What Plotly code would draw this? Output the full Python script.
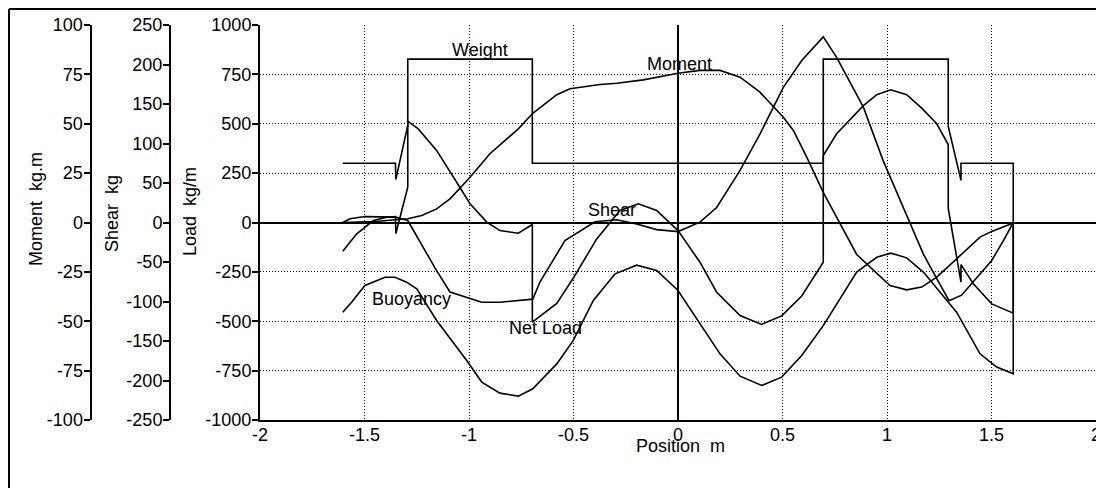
import plotly.graph_objects as go

# ---------------- data ----------------
# Weight distribution (kg/m) vs position (m)
weight_x = [-1.604, -1.352, -1.350, -1.293, -1.293, -0.697, -0.697, 0.695, 0.695,
            1.293, 1.293, 1.354, 1.354, 1.604, 1.604]
weight_y = [300, 300, 218, 491, 827, 827, 300, 300, 827,
            827, 486, 213, 300, 300, 0]

# Buoyancy (kg/m)
buoy_x = [-1.604, -1.561, -1.498, -1.402, -1.354, -1.298, -1.250, -1.155, -1.011, -0.939,
          -0.852, -0.764, -0.695, -0.580, -0.501, -0.405, -0.301, -0.198, -0.102, 0.0,
          0.201, 0.297, 0.400, 0.496, 0.592, 0.695, 0.855, 0.951, 1.018, 1.094,
          1.174, 1.333, 1.445, 1.525, 1.604, 1.604]
buoy_y = [-454, -403, -319, -277, -277, -302, -336, -496, -699, -808,
          -864, -879, -842, -716, -597, -395, -260, -216, -243, -344,
          -665, -778, -825, -783, -673, -522, -251, -176, -155, -179,
          -251, -454, -665, -732, -766, 0]

# Net load (kg/m)
net_x = [-1.604, -1.537, -1.458, -1.394, -1.352, -1.350, -1.293, -1.293, -1.243, -1.155,
         -1.059, -0.995, -0.915, -0.852, -0.764, -0.697, -0.697, -0.580, -0.500, -0.389,
         -0.278, -0.190, -0.102, 0.0, 0.105, 0.185, 0.297, 0.400, 0.496, 0.592,
         0.695, 0.695, 0.759, 0.887, 0.951, 1.018, 1.094, 1.166, 1.238, 1.293,
         1.293, 1.354, 1.354, 1.413, 1.501, 1.604, 1.604]
net_y = [-145, -57, 10, 27, 30, -56, 179, 513, 474, 365,
         204, 95, 2, -41, -54, -10, -505, -410, -280, -83,
         61, 95, 61, -41, -201, -353, -471, -516, -473, -372,
         -201, 339, 449, 592, 647, 672, 647, 579, 500, 395,
         71, -302, -213, -310, -412, -459, 0]

# Shear (kg)
shear_x = [-1.604, -1.569, -1.498, -1.442, -1.352, -1.293, -1.219, -1.155, -1.091, -1.011,
           -0.939, -0.852, -0.695, -0.660, -0.541, -0.397, -0.293, -0.198, -0.102, 0.0,
           0.105, 0.185, 0.297, 0.392, 0.504, 0.592, 0.695, 0.759, 0.887, 0.982,
           1.078, 1.174, 1.238, 1.297, 1.357, 1.413, 1.501, 1.557, 1.604]
shear_y = [0, 4.8, 7.5, 7.5, 6.8, 2.5, -31, -61, -88, -95,
           -101, -101, -97, -75, -23, 1, 3.5, -2, -9, -11.5,
           0.5, 19, 66, 112, 171, 205, 235, 209, 146, 78,
           19, -40, -71, -99, -92, -75, -48, -23, 0]

# Bending moment (kg.m)
moment_x = [-1.604, -1.450, -1.352, -1.293, -1.226, -1.155, -1.091, -0.995, -0.900, -0.764,
            -0.695, -0.580, -0.517, -0.373, -0.293, -0.166, 0.0, 0.105, 0.201, 0.297,
            0.392, 0.504, 0.552, 0.616, 0.695, 0.759, 0.855, 1.014, 1.094, 1.166,
            1.238, 1.333, 1.445, 1.501, 1.557, 1.604]
moment_y = [0, 0.5, 1.4, 1.9, 3.5, 6.9, 12.0, 22.9, 34.8, 47.4,
            55.3, 64.7, 67.7, 69.9, 70.5, 72.2, 75.6, 77.0, 77.0, 73.6,
            66.0, 53.3, 46.6, 33.1, 15.3, 2.7, -16.2, -31.9, -34.1, -32.7,
            -27.7, -18.4, -7.4, -4.5, -2.2, -0.3]

# Tick labels
x_ticks = [-2, -1.5, -1, -0.5, 0, 0.5, 1, 1.5, 2]
x_ticktext = ["-2", "-1.5", "-1", "-0.5", "0", "0.5", "1", "1.5", "2"]
load_ticks = [-1000, -750, -500, -250, 0, 250, 500, 750, 1000]
load_ticktext = ["-1000", "-750", "-500", "-250", "0", "250", "500", "750", "1000"]
shear_ticks = [-250, -200, -150, -100, -50, 0, 50, 100, 150, 200, 250]
shear_ticktext = ["-250", "-200", "-150", "-100", "-50", "0", "50", "100", "150", "200", "250"]
moment_ticks = [-100, -75, -50, -25, 0, 25, 50, 75, 100]
moment_ticktext = ["-100", "-75", "-50", "-25", "0", "25", "50", "75", "100"]

# ---------------- layout helpers ----------------
OFF = 8                      # page body margin
W, H = 1104 - OFF, 488 - OFF
FONT = "Liberation Sans, Arial, sans-serif"
FS = 18
GRID_DASH = "1px,2px"


def pxx(v):
    """reference page pixel x -> paper fraction"""
    return (v - OFF) / W


def pxy(v):
    """reference page pixel y -> paper fraction"""
    return 1 - (v - OFF) / H


line = dict(color="black", width=1.6)
fig = go.Figure()
fig.add_trace(go.Scatter(x=weight_x, y=weight_y, mode="lines", line=line, yaxis="y"))
fig.add_trace(go.Scatter(x=buoy_x, y=buoy_y, mode="lines", line=line, yaxis="y"))
fig.add_trace(go.Scatter(x=net_x, y=net_y, mode="lines", line=line, yaxis="y"))
fig.add_trace(go.Scatter(x=shear_x, y=shear_y, mode="lines", line=line, yaxis="y2"))
fig.add_trace(go.Scatter(x=moment_x, y=moment_y, mode="lines", line=line, yaxis="y3"))

ydom = [pxy(420), pxy(25)]
common_y = dict(showline=True, linecolor="black", linewidth=2, ticks="outside",
                ticklen=6, tickwidth=1.5, tickcolor="black", automargin=False,
                ticklabelstandoff=-3,
                tickfont=dict(family=FONT, size=FS, color="black"))

fig.update_layout(
    width=W, height=H,
    margin=dict(l=0, r=0, t=0, b=0, autoexpand=False),
    paper_bgcolor="white", plot_bgcolor="white",
    showlegend=False,
    font=dict(family=FONT, size=FS, color="black"),
    xaxis=dict(domain=[pxx(260), pxx(1096)], range=[-2, 2], tickmode="array",
               tickvals=x_ticks, ticktext=x_ticktext, showgrid=True,
               gridcolor="black", griddash=GRID_DASH, gridwidth=1,
               zeroline=True, zerolinecolor="black", zerolinewidth=1.5,
               showline=True, linecolor="black", linewidth=2, ticks="",
               automargin=False, ticklabelstandoff=-3,
               tickfont=dict(family=FONT, size=FS, color="black"), anchor="y"),
    yaxis=dict(domain=ydom, range=[-1000, 1000], tickmode="array",
               tickvals=load_ticks, ticktext=load_ticktext, showgrid=True,
               gridcolor="black", griddash=GRID_DASH, gridwidth=1,
               zeroline=True, zerolinecolor="black", zerolinewidth=1.5,
               anchor="x", **common_y),
    yaxis2=dict(domain=ydom, range=[-250, 250], tickmode="array",
                tickvals=shear_ticks, ticktext=shear_ticktext, showgrid=False,
                zeroline=False, overlaying="y", anchor="free", position=pxx(170),
                side="left", **common_y),
    yaxis3=dict(domain=ydom, range=[-100, 100], tickmode="array",
                tickvals=moment_ticks, ticktext=moment_ticktext, showgrid=False,
                zeroline=False, overlaying="y", anchor="free", position=pxx(90.5),
                side="left", **common_y),
)

# axis titles
titles = [("Moment\u00a0 kg.m", 36, 209), ("Shear\u00a0 kg", 112, 214), ("Load\u00a0 kg/m", 190, 212)]
for txt, xx, yy in titles:
    fig.add_annotation(text=txt, xref="paper", yref="paper", x=pxx(xx), y=pxy(yy),
                       showarrow=False, textangle=-90, xanchor="center", yanchor="middle",
                       font=dict(family=FONT, size=FS, color="black"))
fig.add_annotation(text="Position\u00a0 m", xref="paper", yref="paper", x=pxx(680), y=pxy(446),
                   showarrow=False, xanchor="center", yanchor="middle",
                   font=dict(family=FONT, size=FS, color="black"))

# curve labels
labels = [("Weight", -0.947, 871), ("Moment", 0.005, 800), ("Shear", -0.316, 64),
          ("Buoyancy", -1.274, -385), ("Net Load", -0.633, -533)]
for txt, xx, yy in labels:
    fig.add_annotation(text=txt, x=xx, y=yy, xref="x", yref="y", showarrow=False,
                       xanchor="center", yanchor="middle",
                       font=dict(family=FONT, size=FS, color="black"))

# outer frame
frame = dict(color="black", width=2)
fig.add_shape(type="line", xref="paper", yref="paper", x0=pxx(9), x1=pxx(9), y0=-0.05, y1=pxy(9), line=frame)
fig.add_shape(type="line", xref="paper", yref="paper", x0=pxx(9), x1=pxx(1100), y0=pxy(9), y1=pxy(9), line=frame)
fig.add_shape(type="line", xref="paper", yref="paper", x0=pxx(1100), x1=pxx(1100), y0=-0.05, y1=pxy(9), line=frame)

fig.write_html("out.html")
